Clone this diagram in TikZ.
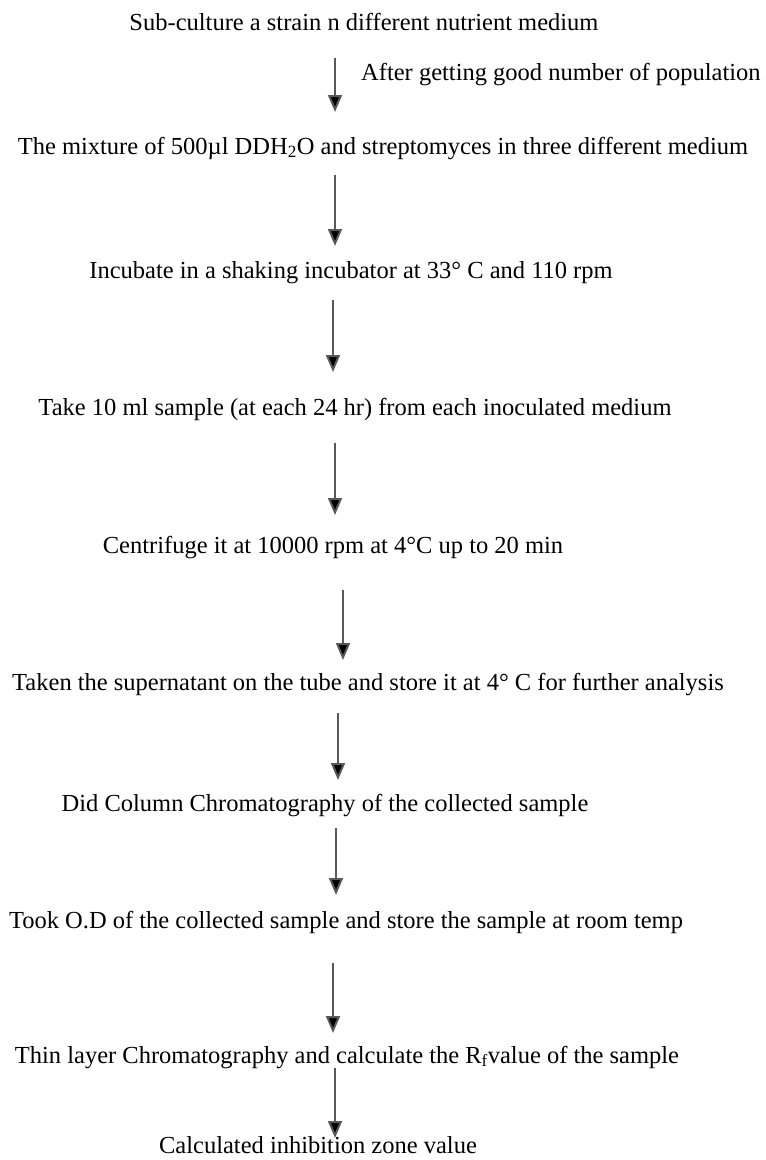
\documentclass[tikz,border=0pt]{standalone}
\usepackage{fontspec}
\setmainfont{Liberation Serif}
\usetikzlibrary{arrows.meta}
\begin{document}
\begin{tikzpicture}[x=1pt,y=-1pt,
  lbl/.style={inner sep=0pt,anchor=base,font=\fontsize{24.5}{28}\selectfont},
  arr/.style={draw=black!65,line width=2pt,-{Triangle[length=17pt,width=14pt,fill=black]}}]
\useasboundingbox (0,0) rectangle (766,1160);
\node[lbl] (t1) at (364,30) {Sub-culture a strain n different nutrient medium};
\node[lbl,anchor=base west] (lab) at (361,80) {After getting good number of population};
\node[lbl] (t2) at (383,154) {The mixture of 500µl DDH\textsubscript{2}O and streptomyces in three different medium};
\node[lbl] (t3) at (351,278) {Incubate in a shaking incubator at 33° C and 110 rpm};
\node[lbl] (t4) at (355,415) {Take 10 ml sample (at each 24 hr) from each inoculated medium};
\node[lbl] (t5) at (333,553) {Centrifuge it at 10000 rpm at 4°C up to 20 min};
\node[lbl] (t6) at (368,690) {Taken the supernatant on the tube and store it at 4° C for further analysis};
\node[lbl] (t7) at (325,811) {Did Column Chromatography of the collected sample};
\node[lbl] (t8) at (346,928) {Took O.D of the collected sample and store the sample at room temp};
\node[lbl] (t9) at (347,1063) {Thin layer Chromatography and calculate the R\textsubscript{f}value of the sample};
\node[lbl] (t10) at (318,1153) {Calculated inhibition zone value};
\coordinate (a1s) at (335,58);  \coordinate (a1e) at (335,112);
\coordinate (a2s) at (335,175); \coordinate (a2e) at (335,246);
\coordinate (a3s) at (333,300); \coordinate (a3e) at (333,372);
\coordinate (a4s) at (335,443); \coordinate (a4e) at (335,515);
\coordinate (a5s) at (343,590); \coordinate (a5e) at (343,660);
\coordinate (a6s) at (338,713); \coordinate (a6e) at (338,780);
\coordinate (a7s) at (336,828); \coordinate (a7e) at (336,895);
\coordinate (a8s) at (333,963); \coordinate (a8e) at (333,1033);
\coordinate (a9s) at (335,1068); \coordinate (a9e) at (335,1138);
\foreach \i in {1,...,9} {\draw[arr] (a\i s) -- (a\i e);}
\end{tikzpicture}
\end{document}
